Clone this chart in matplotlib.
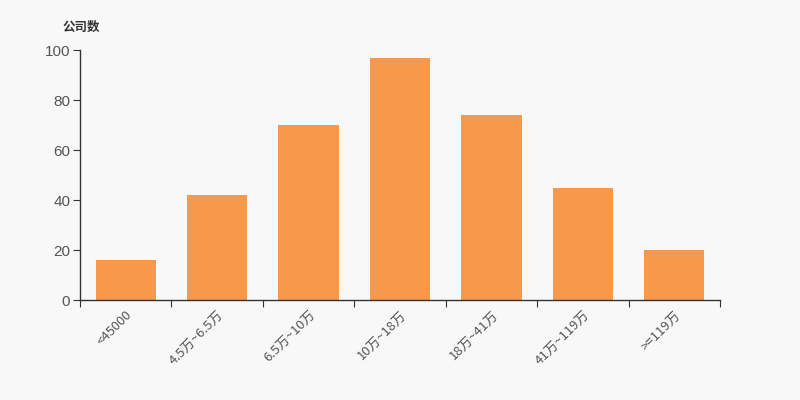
import matplotlib
matplotlib.use("Agg")
import matplotlib.pyplot as plt
import numpy as np

plt.rcParams['font.family'] = ['Noto Sans CJK SC', 'DejaVu Sans']

categories = ["<45000", "4.5万~6.5万", "6.5万~10万", "10万~18万", "18万~41万", "41万~119万", ">=119万"]
values = [16, 42, 70, 97, 74, 45, 20]
y_ticks = [0, 20, 40, 60, 80, 100]

bg = "#F8F8F8"
bar_color = "#F7984A"
axis_color = "#333333"

fig = plt.figure(figsize=(8, 4), dpi=100, facecolor=bg)
ax = fig.add_axes([0.1, 0.25, 0.8, 0.625], facecolor=bg)

x = np.arange(len(categories))
ax.bar(x, values, width=0.66, color=bar_color, zorder=2)

ax.set_xlim(-0.5, len(categories) - 0.5)
ax.set_ylim(0, 100)

for s in ["top", "right"]:
    ax.spines[s].set_visible(False)
for s in ["left", "bottom"]:
    ax.spines[s].set_color(axis_color)
    ax.spines[s].set_linewidth(1)

ax.set_yticks(y_ticks)
ax.set_yticklabels([str(v) for v in y_ticks], fontsize=11, color="#555555",
                   family=['Liberation Sans', 'DejaVu Sans'])
ax.tick_params(axis="y", length=5, color=axis_color, pad=2)

ax.set_xticks(np.arange(len(categories) + 1) - 0.5)
ax.set_xticklabels([])
ax.tick_params(axis="x", which="major", length=5, color=axis_color)
ax.set_xticks(x, minor=True)
ax.set_xticklabels(categories, minor=True, rotation=45, ha="right", rotation_mode="anchor",
                   fontsize=9.5, color="#555555")
ax.tick_params(axis="x", which="minor", length=0, pad=6)

fig.text(0.078, 0.932, "公司数", fontsize=9, fontweight="bold", color="#333333", ha="left", va="center")

fig.savefig("out.png", dpi=100, facecolor=bg)
